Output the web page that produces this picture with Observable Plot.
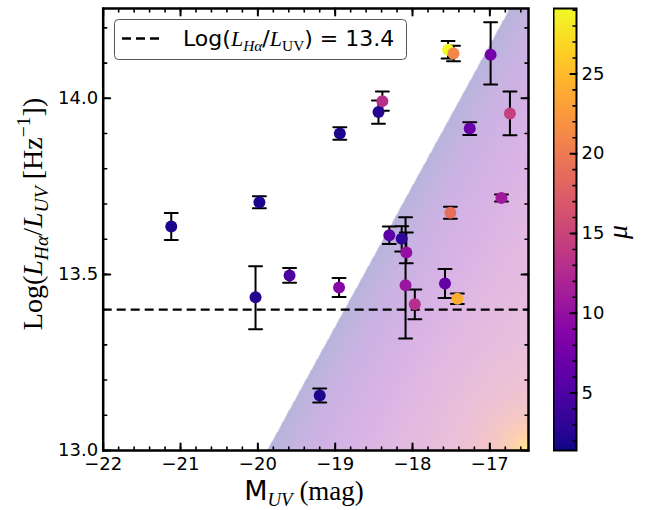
<!DOCTYPE html>
<html><head><meta charset="utf-8">
<script src="https://cdn.jsdelivr.net/npm/d3@7"></script>
<script src="https://cdn.jsdelivr.net/npm/@observablehq/plot@0.6"></script>
<style>
body{margin:0;background:#fff;}
#wrap{position:relative;width:656px;height:510px;overflow:hidden;}
#wrap svg{position:absolute;top:0;}
</style></head><body><div id="wrap"></div>
<script>
// ---- data ----
const muv      = [-21.12,-19.98,-20.03,-19.59,-18.94,-18.95,-19.20,-18.44,-18.39,-18.30,-18.14,-18.08,-18.09,-17.97,-17.51,-16.85,-17.58,-17.42,-17.54,-17.47,-16.99,-17.26,-16.74];
const logRatio = [13.636,13.705,13.435,13.497,13.900,13.463,13.156,13.961,13.992,13.611,13.601,13.562,13.469,13.415,13.675,13.717,13.474,13.431,14.138,14.127,14.124,13.914,13.957];
const errUp    = [0.038,0.017,0.088,0.021,0.018,0.027,0.020,0.033,0.027,0.025,0.036,0.057,0.193,0.042,0.017,0.010,0.041,0.015,0.025,0.022,0.092,0.018,0.062];
const errDown  = [0.038,0.017,0.091,0.021,0.018,0.027,0.020,0.033,0.027,0.025,0.036,0.030,0.151,0.042,0.017,0.010,0.041,0.015,0.025,0.022,0.085,0.018,0.062];
const mu       = [2.0,2.0,2.5,5.0,2.0,9.0,2.0,2.5,13.0,6.0,3.0,10.0,10.5,13.0,19.0,11.0,6.5,24.0,29.0,21.0,7.5,7.0,14.5];
const refLevel = 13.4;
const xDomain  = [-22, -16.5];
const yDomain  = [13.0, 14.255];
const muDomain = [1.4, 29.1];
const xMajor = [-22,-21,-20,-19,-18,-17];
const xMinor = d3.range(-22, -16.55, 0.2).map(v => +v.toFixed(1));
const yMajor = [13.0, 13.5, 14.0];
const yMinor = d3.range(13.0, 14.25, 0.1).map(v => +v.toFixed(1));
const cbMajor = [5,10,15,20,25];
const cbMinor = d3.range(2, 30, 1);
// detection-limit line (constant L_Hα): passes through (-19.88, 13.0) with slope 0.4
const limitX0 = -19.88, limitY0 = 13.0, limitSlope = 0.4;
const cornerX = -16.5, cornerY = 13.0;

const rows = muv.map((x,i)=>({x, y: logRatio[i], lo: logRatio[i]-errDown[i], hi: logRatio[i]+errUp[i], mu: mu[i]}));
const yb = x => limitY0 + limitSlope*(x - limitX0);
const cornerDist = (x, y) => Math.hypot((cornerX - x)*77.3, (y - cornerY)*352);
// background shading: magnification needed below the limit line
function bgValue(x, y) {
  const d = yb(x) - y;
  if (!(d > 0)) return NaN;
  const t = 0.46*(1 - Math.exp(-d/0.55)) + 0.52*Math.exp(-cornerDist(x, y)/38);
  return muDomain[0] + Math.min(1, t)*(muDomain[1]-muDomain[0]);
}
const bgOpacity = (x, y) => (yb(x) - y > 0 ? 0.3 + 0.22*Math.exp(-cornerDist(x, y)/30) : 0);

const tickShape = {draw(ctx, l){ ctx.moveTo(0,0); ctx.lineTo(0,-l); }};
const tickSet = (vals, chan, anchor, rot, len, w) =>
  Plot.vector(vals, {[chan]: d=>d, frameAnchor: anchor, rotate: rot, length: len, anchor: "start", shape: tickShape, stroke: "black", strokeWidth: w});
const cap = (vals) => Plot.vector(rows, {x: "x", y: vals, rotate: 90, length: 13, anchor: "middle", shape: tickShape, stroke: "black", strokeWidth: 2});

const main = Plot.plot({
  width: 656, height: 510,
  marginLeft: 102.7, marginRight: 128, marginTop: 8, marginBottom: 60,
  style: {fontFamily: "DejaVu Sans", fontSize: "18px", background: "transparent"},
  x: {domain: xDomain, axis: null},
  y: {domain: yDomain, axis: null},
  color: {type: "linear", scheme: "plasma", domain: muDomain, clamp: true},
  marks: [
    Plot.raster({x1: xDomain[0], x2: xDomain[1], y1: yDomain[0], y2: yDomain[1], pixelSize: 1,
      fill: bgValue, fillOpacity: bgOpacity}),
    Plot.ruleY([refLevel], {stroke: "black", strokeWidth: 2.4, strokeDasharray: "9,5"}),
    Plot.ruleX(rows, {x: "x", y1: "lo", y2: "hi", stroke: "black", strokeWidth: 2}),
    cap("lo"), cap("hi"),
    Plot.dot(rows, {x: "x", y: "y", r: 6, fill: "mu"}),
    tickSet(xMajor, "x", "bottom", 0, 7, 2), tickSet(xMinor, "x", "bottom", 0, 3.5, 1.6),
    tickSet(xMajor, "x", "top", 180, 7, 2), tickSet(xMinor, "x", "top", 180, 3.5, 1.6),
    tickSet(yMajor, "y", "left", 90, 7, 2), tickSet(yMinor, "y", "left", 90, 3.5, 1.6),
    tickSet(yMajor, "y", "right", -90, 7, 2), tickSet(yMinor, "y", "right", -90, 3.5, 1.6),
    Plot.frame({stroke: "black", strokeWidth: 2.5}),
    Plot.axisX({ticks: xMajor, tickSize: 0, tickPadding: 7, tickFormat: d3.format("d"), fontSize: 18, label: null}),
    Plot.axisY({ticks: yMajor, tickSize: 0, tickPadding: 5, tickFormat: ".1f", fontSize: 18, label: null})
  ]
});

const cbar = Plot.plot({
  width: 103, height: 510, marginLeft: 0, marginRight: 80, marginTop: 8, marginBottom: 60,
  style: {fontFamily: "DejaVu Sans", fontSize: "18px", background: "transparent"},
  x: {domain: [0,1], axis: null},
  y: {domain: muDomain, axis: null},
  color: {type: "linear", scheme: "plasma", domain: muDomain},
  marks: [
    Plot.raster({x1: 0, x2: 1, y1: muDomain[0], y2: muDomain[1], pixelSize: 1, fill: (x,y) => y}),
    tickSet(cbMajor, "y", "right", -90, 6, 2), tickSet(cbMinor, "y", "right", -90, 3.5, 1.6),
    Plot.frame({stroke: "black", strokeWidth: 2}),
    Plot.axisY({anchor: "right", ticks: cbMajor, tickSize: 0, tickPadding: 5, fontSize: 18, label: null})
  ]
});

const wrap = document.getElementById("wrap");
wrap.appendChild(main);
wrap.appendChild(cbar);
cbar.style.left = "553px";

function rich(g, parts, base) {
  let shift = 0;
  for (const p of parts) {
    const small = p.sub || p.sup;
    const target = p.sub ? base*0.22 : p.sup ? -base*0.42 : 0;
    g.append("tspan").attr("dy", target - shift)
      .attr("font-size", small ? base*0.7 : base)
      .attr("font-family", p.f || "DejaVu Sans")
      .attr("font-style", p.i ? "italic" : "normal")
      .text(p.t);
    shift = target;
  }
}
const SERIF = "Liberation Serif";
const svg = d3.select(main);
// x label
rich(svg.append("text").attr("x", 304).attr("y", 500).attr("text-anchor", "middle").attr("fill","black"),
  [{t:"M"},{t:"UV", sub:true, i:true, f:SERIF},{t:" (mag)", f:SERIF}], 27);
// y label
rich(svg.append("text").attr("transform","translate(42,214) rotate(-90)").attr("text-anchor","middle").attr("fill","black"),
  [{t:"Log(", f:SERIF},{t:"L", i:true, f:SERIF},{t:"Hα", sub:true, i:true, f:SERIF},{t:"/", f:SERIF},{t:"L", i:true, f:SERIF},{t:"UV", sub:true, i:true, f:SERIF},
   {t:" [Hz", f:SERIF},{t:"−1", sup:true, f:SERIF},{t:"])", f:SERIF}], 28);
// legend
const lg = svg.append("g");
lg.append("rect").attr("x",114.5).attr("y",19.5).attr("width",292).attr("height",40).attr("rx",4)
  .attr("fill","white").attr("fill-opacity",0.85).attr("stroke","#555").attr("stroke-width",1);
lg.append("line").attr("x1",122).attr("x2",162).attr("y1",38.5).attr("y2",38.5)
  .attr("stroke","black").attr("stroke-width",2.4).attr("stroke-dasharray","9,5");
rich(lg.append("text").attr("x",183).attr("y",46).attr("text-anchor","start").attr("fill","black"),
  [{t:"Log("},{t:"L", i:true, f:SERIF},{t:"Hα", sub:true, i:true, f:SERIF},{t:"/"},{t:"L", i:true, f:SERIF},{t:"UV", sub:true, f:SERIF},{t:") = 13.4"}], 22);
// colorbar label
d3.select(cbar).append("text").attr("transform","translate(74,232) rotate(-90)").attr("text-anchor","middle")
  .attr("font-family", SERIF).attr("font-style","italic").attr("font-size",28).attr("fill","black").text("μ");
</script></body></html>
